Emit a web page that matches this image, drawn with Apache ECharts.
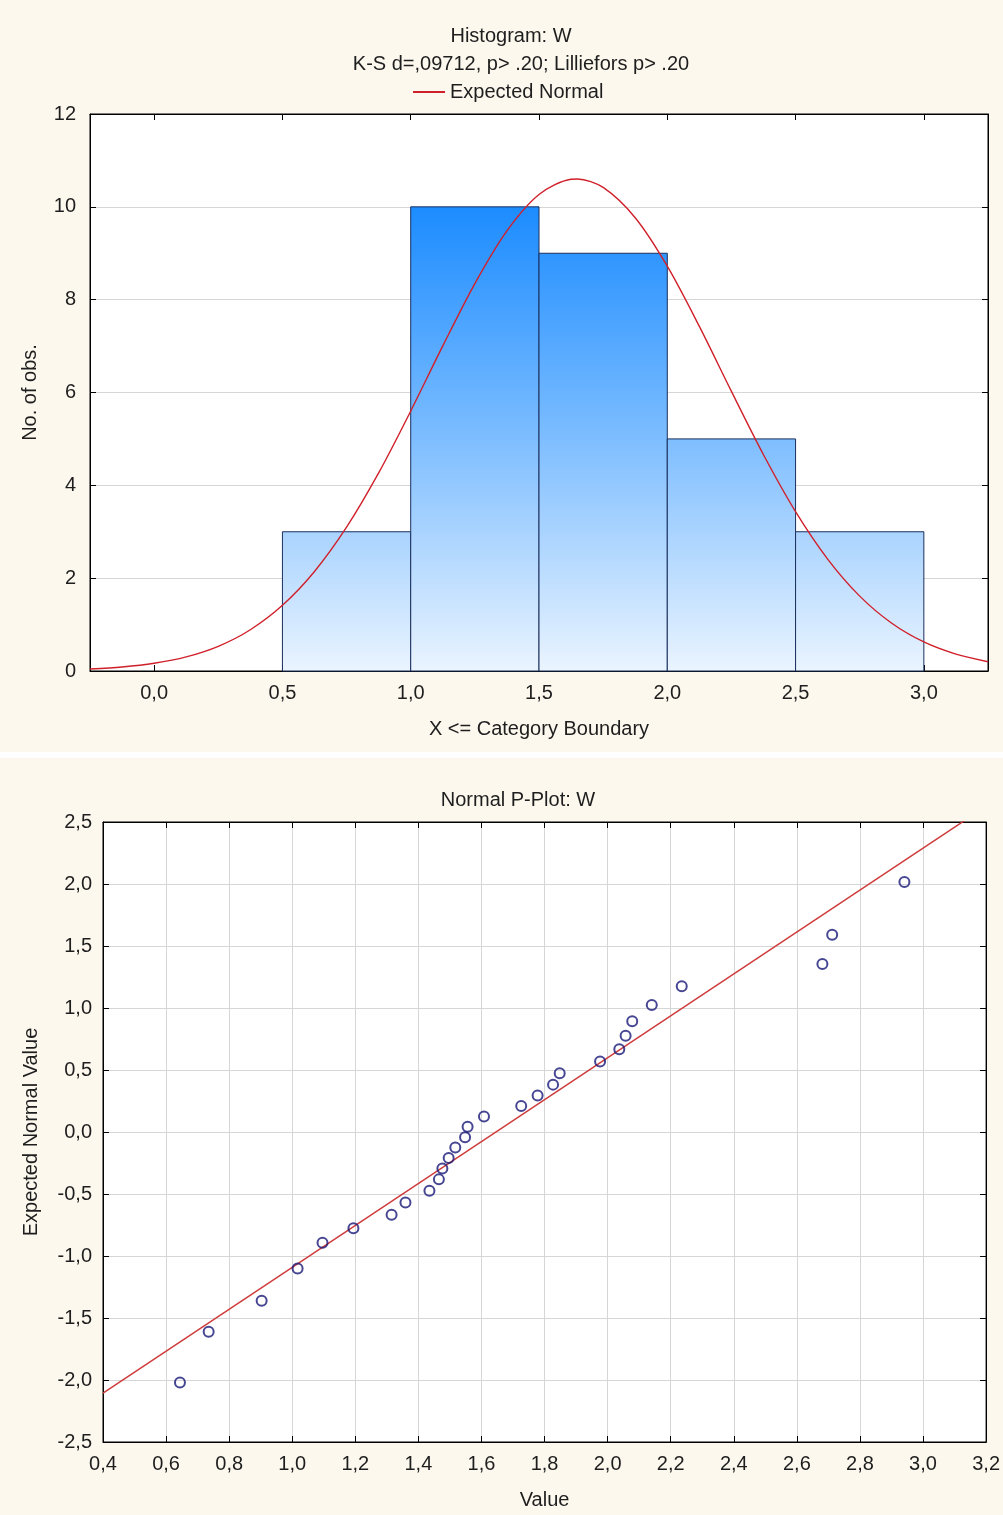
<!DOCTYPE html>
<html>
<head>
<meta charset="utf-8">
<title>Histogram and Normal P-Plot: W</title>
<script src="https://cdn.jsdelivr.net/npm/echarts@6/dist/echarts.min.js"></script>
<style>
  html, body { margin: 0; padding: 0; background: #ffffff; }
  #hist  { width: 1003px; height: 752px; background: #fcf8ee; }
  #pplot { width: 1003px; height: 757px; background: #fcf8ee; margin-top: 6px; }
</style>
</head>
<body>
<div id="hist"></div>
<div id="pplot"></div>
<script>
// ---- Histogram of W: bins (upper boundary inclusive) and counts ----
const binStarts = [0.5, 1.0, 1.5, 2.0, 2.5];
const binEnds   = [1.0, 1.5, 2.0, 2.5, 3.0];
const binCounts = [3, 10, 9, 5, 3];

// Expected normal curve, sampled across the axis range
const curveX = [-0.25, -0.125, 0, 0.125, 0.25, 0.375, 0.5, 0.625, 0.75, 0.875,
                1.0, 1.125, 1.25, 1.375, 1.5, 1.625, 1.65, 1.75, 1.875, 2.0, 2.125,
                2.25, 2.375, 2.5, 2.625, 2.75, 2.875, 3.0, 3.125, 3.25];
const curveY = [0.042, 0.086, 0.166, 0.304, 0.532, 0.889, 1.415, 2.145, 3.098, 4.267,
                5.600, 7.004, 8.347, 9.483, 10.267, 10.594, 10.599, 10.418, 9.765, 8.721, 7.424,
                6.024, 4.658, 3.432, 2.411, 1.613, 1.029, 0.625, 0.363, 0.200];

const histXTicks = [0, 0.5, 1.0, 1.5, 2.0, 2.5, 3.0];

// ---- Normal P-Plot: observed values and expected normal values ----
// (two tied observations at 1.017 share the averaged expected value -1.10)
const obsValues = [0.644, 0.735, 0.903, 1.017, 1.017, 1.096, 1.194, 1.315, 1.359, 1.435,
                   1.465, 1.476, 1.496, 1.517, 1.548, 1.556, 1.608, 1.726, 1.778, 1.827,
                   1.848, 1.976, 2.037, 2.057, 2.078, 2.140, 2.235, 2.681, 2.712, 2.941];
const expectedNormal = [-2.02, -1.61, -1.36, -1.10, -1.10, -0.893, -0.776, -0.668, -0.568, -0.473,
                        -0.382, -0.294, -0.209, -0.125, -0.042, 0.042, 0.125, 0.209, 0.294, 0.382,
                        0.473, 0.568, 0.668, 0.776, 0.893, 1.024, 1.175, 1.355, 1.59, 2.016];
const fitLineX = [0.4, 3.2];
const fitLineY = [-2.105, 2.627];

const FONT = '"Liberation Sans", Arial, "DejaVu Sans", sans-serif';
const FS = 20;
const TXT = '#1e1e1e';
const comma1 = v => v.toFixed(1).replace('.', ',');

// frame axis helpers: a black border line with short inward ticks
const frameLine = { show: true, onZero: false, lineStyle: { color: '#000', width: 1 } };
const inTick = extra => Object.assign({ show: true, inside: true, length: 6, lineStyle: { color: '#000' } }, extra || {});
const gridLine = { show: true, lineStyle: { color: '#d6d6d6', width: 1 } };

// ---------------- Histogram ----------------
const hist = echarts.init(document.getElementById('hist'), null, { renderer: 'canvas' });
const maxCount = Math.max(...binCounts);

hist.setOption({
  animation: false,
  backgroundColor: '#fcf8ee',
  textStyle: { fontFamily: FONT },
  title: [
    { text: 'Histogram: W', left: 506, top: 21, textAlign: 'center',
      textStyle: { fontFamily: FONT, fontSize: FS, fontWeight: 'normal', color: TXT } },
    { text: 'K-S d=,09712, p> .20; Lilliefors p> .20', left: 516, top: 49, textAlign: 'center',
      textStyle: { fontFamily: FONT, fontSize: FS, fontWeight: 'normal', color: TXT } }
  ],
  legend: {
    data: ['Expected Normal'],
    left: 408, top: 77,
    itemWidth: 32, itemHeight: 2, icon: 'rect', itemGap: 6,
    textStyle: { fontFamily: FONT, fontSize: FS, color: TXT }
  },
  grid: {
    left: 90, right: 15, top: 114, height: 557,
    show: true, backgroundColor: '#ffffff', borderColor: '#000', borderWidth: 1
  },
  xAxis: [
    {
      type: 'value', min: -0.25, max: 3.25, position: 'bottom',
      name: 'X <= Category Boundary', nameLocation: 'middle', nameGap: 48,
      nameTextStyle: { fontFamily: FONT, fontSize: FS, color: TXT },
      axisLine: frameLine,
      axisTick: inTick({ customValues: histXTicks }),
      axisLabel: { customValues: histXTicks, margin: 12, fontSize: FS, color: TXT, fontFamily: FONT,
                   formatter: v => comma1(v) },
      splitLine: { show: false }
    },
    {
      type: 'value', min: -0.25, max: 3.25, position: 'top',
      axisLine: frameLine,
      axisTick: inTick({ customValues: histXTicks }),
      axisLabel: { show: false },
      splitLine: { show: false }
    }
  ],
  yAxis: [
    {
      type: 'value', min: 0, max: 12, interval: 2, position: 'left',
      name: 'No. of obs.', nameLocation: 'middle', nameGap: 50, nameRotate: 90,
      nameTextStyle: { fontFamily: FONT, fontSize: FS, color: TXT },
      axisLine: frameLine,
      axisTick: inTick(),
      axisLabel: { margin: 14, fontSize: FS, color: TXT, fontFamily: FONT },
      splitLine: gridLine
    },
    {
      type: 'value', min: 0, max: 12, interval: 2, position: 'right',
      axisLine: frameLine,
      axisTick: inTick(),
      axisLabel: { show: false },
      splitLine: { show: false }
    }
  ],
  series: [
    {
      type: 'custom',
      name: 'Counts',
      xAxisIndex: 0, yAxisIndex: 0,
      z: 2,
      encode: { x: [0, 1], y: 2 },
      data: binStarts.map((s, i) => [s, binEnds[i], binCounts[i]]),
      renderItem(params, api) {
        const x0 = api.value(0), x1 = api.value(1), n = api.value(2);
        const pTop = api.coord([x0, n]);
        const pBase = api.coord([x1, 0]);
        const gTop = api.coord([x0, maxCount])[1];
        const fill = new echarts.graphic.LinearGradient(0, gTop, 0, pBase[1], [
          { offset: 0, color: '#1c8cff' },
          { offset: 0.45, color: '#73b8ff' },
          { offset: 1, color: '#eaf4ff' }
        ], true);
        return {
          type: 'rect',
          shape: { x: pTop[0], y: pTop[1], width: pBase[0] - pTop[0], height: pBase[1] - pTop[1] },
          style: { fill: fill, stroke: '#1a2f5c', lineWidth: 1 }
        };
      }
    },
    {
      type: 'line',
      name: 'Expected Normal',
      xAxisIndex: 0, yAxisIndex: 0,
      z: 5,
      data: curveX.map((x, i) => [x, curveY[i]]),
      smooth: 0.3,
      showSymbol: false,
      symbol: 'none',
      clip: true,
      itemStyle: { color: '#d0202a' },
      lineStyle: { color: '#d0202a', width: 1.4 }
    }
  ]
});

// ---------------- Normal P-Plot ----------------
const pplot = echarts.init(document.getElementById('pplot'), null, { renderer: 'canvas' });

// tied observations are drawn once
const seen = new Set();
const pplotPoints = [];
obsValues.forEach((v, i) => {
  const key = v + '|' + expectedNormal[i];
  if (!seen.has(key)) { seen.add(key); pplotPoints.push([v, expectedNormal[i]]); }
});

pplot.setOption({
  animation: false,
  backgroundColor: '#fcf8ee',
  textStyle: { fontFamily: FONT },
  title: {
    text: 'Normal P-Plot: W', left: 513, top: 27, textAlign: 'center',
    textStyle: { fontFamily: FONT, fontSize: FS, fontWeight: 'normal', color: TXT }
  },
  grid: {
    left: 103, right: 15, top: 64, height: 620,
    show: true, backgroundColor: '#ffffff', borderColor: '#000', borderWidth: 1
  },
  xAxis: [
    {
      type: 'value', min: 0.4, max: 3.2, interval: 0.2, position: 'bottom',
      name: 'Value', nameLocation: 'middle', nameGap: 48,
      nameTextStyle: { fontFamily: FONT, fontSize: FS, color: TXT },
      axisLine: frameLine,
      axisTick: inTick(),
      axisLabel: { margin: 12, fontSize: FS, color: TXT, fontFamily: FONT,
                   formatter: v => comma1(v), showMinLabel: true, showMaxLabel: true },
      splitLine: gridLine
    },
    {
      type: 'value', min: 0.4, max: 3.2, interval: 0.2, position: 'top',
      axisLine: frameLine,
      axisTick: inTick(),
      axisLabel: { show: false },
      splitLine: { show: false }
    }
  ],
  yAxis: [
    {
      type: 'value', min: -2.5, max: 2.5, interval: 0.5, position: 'left',
      name: 'Expected Normal Value', nameLocation: 'middle', nameGap: 62, nameRotate: 90,
      nameTextStyle: { fontFamily: FONT, fontSize: FS, color: TXT },
      axisLine: frameLine,
      axisTick: inTick(),
      axisLabel: { margin: 11, fontSize: FS, color: TXT, fontFamily: FONT,
                   formatter: v => comma1(v) },
      splitLine: gridLine
    },
    {
      type: 'value', min: -2.5, max: 2.5, interval: 0.5, position: 'right',
      axisLine: frameLine,
      axisTick: inTick(),
      axisLabel: { show: false },
      splitLine: { show: false }
    }
  ],
  series: [
    {
      type: 'line',
      name: 'Normal fit',
      xAxisIndex: 0, yAxisIndex: 0,
      z: 3,
      data: fitLineX.map((x, i) => [x, fitLineY[i]]),
      showSymbol: false,
      symbol: 'none',
      clip: true,
      lineStyle: { color: '#cf3c3c', width: 1.5 }
    },
    {
      type: 'scatter',
      name: 'W',
      xAxisIndex: 0, yAxisIndex: 0,
      z: 4,
      data: pplotPoints,
      symbol: 'circle',
      symbolSize: 10,
      itemStyle: { color: 'rgba(0,0,0,0)', borderColor: '#181878', borderWidth: 2 }
    }
  ]
});
</script>
</body>
</html>
